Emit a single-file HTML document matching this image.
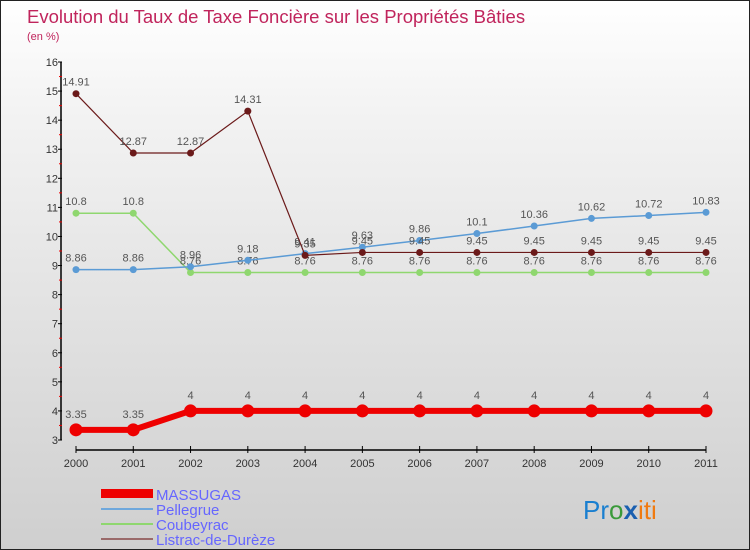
<!DOCTYPE html>
<html><head><meta charset="utf-8"><style>
body{margin:0}
#c{position:relative;width:750px;height:550px;box-sizing:border-box;border:1px solid #222;background:linear-gradient(#ffffff,#f3f3f3 20%,#dcdcdc 70%,#cfcfcf);font-family:"Liberation Sans",sans-serif;overflow:hidden}
</style></head><body>
<div id="c">
<svg width="750" height="550" style="position:absolute;left:0;top:0" id="svg">
<text x="26" y="22" font-size="18.5" fill="#c0245c">Evolution du Taux de Taxe Foncière sur les Propriétés Bâties</text>
<text x="26" y="39" font-size="11" fill="#c0245c">(en %)</text>
<g id="axes"></g><g id="series"></g>
<g>
<rect x="100" y="488" width="52" height="9" fill="#e00"/>
<text x="155" y="499" font-size="15" fill="#6666ff">MASSUGAS</text>
<line x1="100" y1="508" x2="152" y2="508" stroke="#6fa8dc" stroke-width="2"/>
<text x="155" y="514" font-size="15" fill="#6666ff">Pellegrue</text>
<line x1="100" y1="523" x2="152" y2="523" stroke="#8fd76f" stroke-width="2"/>
<text x="155" y="529" font-size="15" fill="#6666ff">Coubeyrac</text>
<line x1="100" y1="538" x2="152" y2="538" stroke="#9a6a6a" stroke-width="2"/>
<text x="155" y="544" font-size="15" fill="#6666ff">Listrac-de-Durèze</text>
</g>
<text x="582" y="518" font-size="26"><tspan fill="#1a7fd0">Pr</tspan><tspan fill="#3a9a3a">o</tspan><tspan fill="#1a5fb0" font-weight="bold">x</tspan><tspan fill="#f07a10">iti</tspan></text>
</svg>
</div>
<script>
const years=["2000","2001","2002","2003","2004","2005","2006","2007","2008","2009","2010","2011"];
const yTicks=[3,4,5,6,7,8,9,10,11,12,13,14,15,16];
const massugas=[3.35,3.35,4,4,4,4,4,4,4,4,4,4];
const pellegrue=[8.86,8.86,8.96,9.18,9.41,9.63,9.86,10.1,10.36,10.62,10.72,10.83];
const coubeyrac=[10.8,10.8,8.76,8.76,8.76,8.76,8.76,8.76,8.76,8.76,8.76,8.76];
const listrac=[14.91,12.87,12.87,14.31,9.35,9.45,9.45,9.45,9.45,9.45,9.45,9.45];
const NS="http://www.w3.org/2000/svg";
const xs=i=>75+i*(630/11);
const ys=v=>439-(v-3)*(378/13);
function mk(tag,attrs,parent){const e=document.createElementNS(NS,tag);for(const k in attrs)e.setAttribute(k,attrs[k]);parent.appendChild(e);return e;}
const ax=document.getElementById('axes');
let a=mk('line',{x1:60,y1:ys(16),x2:60,y2:ys(3),stroke:'#000','stroke-width':1.5},ax);


a=mk('line',{x1:75,y1:449,x2:705,y2:449,stroke:'#000','stroke-width':1.5},ax);


yTicks.forEach(v=>{
 mk('line',{x1:57,y1:ys(v),x2:61,y2:ys(v),stroke:'#000'},ax);
 if(v<16)mk('line',{x1:58,y1:ys(v+0.5),x2:61,y2:ys(v+0.5),stroke:'#e00'},ax);
 const t=mk('text',{x:57,y:ys(v)+4,'font-size':11,fill:'#333','text-anchor':'end'},ax);
 t.textContent=v;
 
 
});
years.forEach((y,i)=>{
 mk('line',{x1:xs(i),y1:445,x2:xs(i),y2:452,stroke:'#000'},ax);
 const t=mk('text',{x:xs(i),y:466,'font-size':11,fill:'#333','text-anchor':'middle'},ax);
 t.textContent=y;
 
 
});
const sg=document.getElementById('series');
function series(vals,color,w,r,name,lblOff){
 const g=mk('g',{},sg);
 
 
 const p=mk('polyline',{points:vals.map((v,i)=>xs(i)+','+ys(v)).join(' '),fill:'none',stroke:color,'stroke-width':w},g);
 
 
 vals.forEach((v,i)=>{
  const c=mk('circle',{cx:xs(i),cy:ys(v),r:r,fill:color},g);
  
  
  const t=mk('text',{x:xs(i),y:ys(v)-lblOff,'font-size':11,fill:'#555','text-anchor':'middle'},g);
  t.textContent=v;
  
  
 });
}
series(coubeyrac,'#8fd76f',1.5,3.5,'coubeyrac',8);
series(pellegrue,'#5b9bd5',1.5,3.5,'pellegrue',8);
series(listrac,'#6b1a1a',1.2,3.5,'listrac',8);
series(massugas,'#ee0000',6,6.5,'massugas',12);
</script>
</body></html>
